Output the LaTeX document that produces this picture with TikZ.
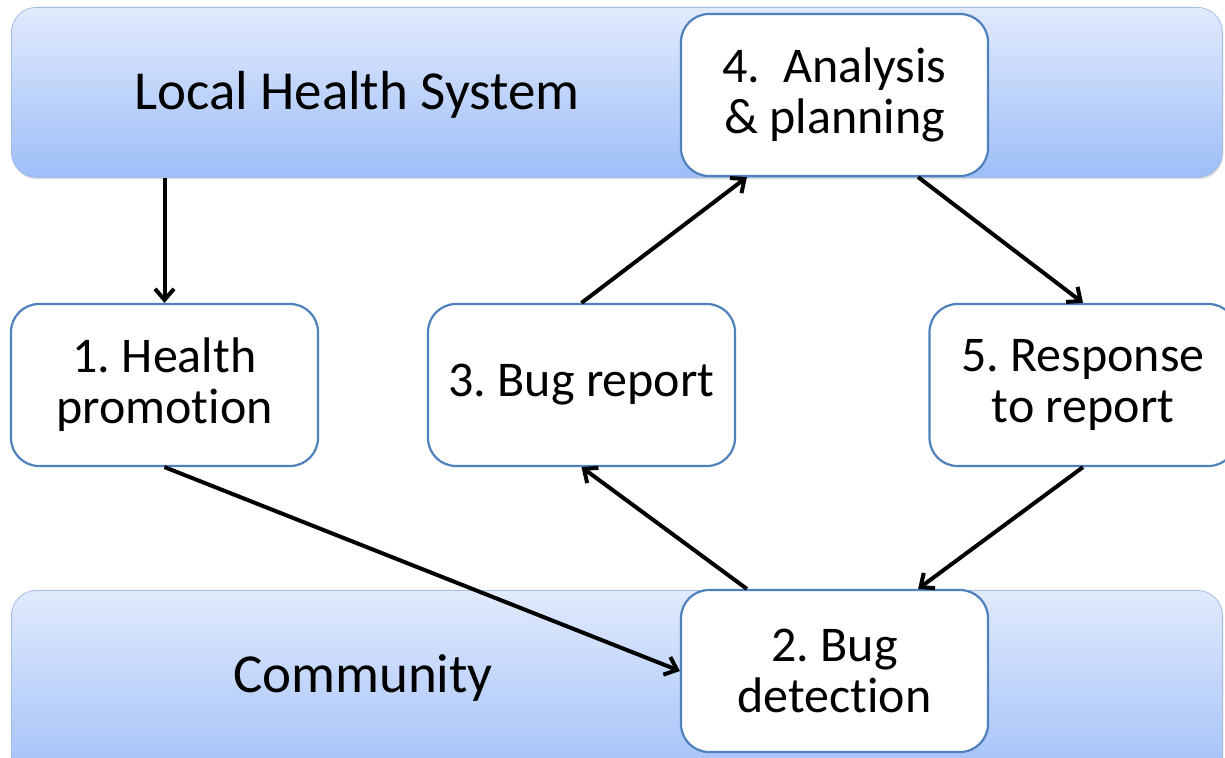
\documentclass[tikz,border=0pt]{standalone}
\usepackage{fontspec}
\setmainfont{Carlito}[Ligatures={NoCommon,NoContextual}]
\frenchspacing
\usetikzlibrary{arrows.meta,calc,shadows}
\definecolor{bandtop}{RGB}{225,234,252}
\definecolor{bandbot}{RGB}{158,190,248}
\definecolor{bandline}{RGB}{165,188,228}
\definecolor{boxline}{RGB}{79,129,189}
\begin{document}
\begin{tikzpicture}[x=1pt,y=-1pt,
  band/.style={rounded corners=25pt, top color=bandtop, bottom color=bandbot, draw=bandline, line width=0.8pt,
    drop shadow={shadow xshift=1pt, shadow yshift=-2pt, opacity=0.25}},
  stepbox/.style={draw=boxline, fill=white, line width=2.2pt, rounded corners=28pt, minimum width=307pt, minimum height=162pt, align=center, inner sep=0pt, font=\fontsize{50}{51}\selectfont},
  bandtext/.style={font=\fontsize{55}{60}\selectfont, inner sep=0pt},
  flow/.style={-{Straight Barb[length=11pt,width=19pt,line width=4pt]}, line width=4pt}
]
\useasboundingbox (0,0) rectangle (1225,757);
\node[band, minimum width=1211pt, minimum height=170pt, anchor=north west] (top) at (11,7) {};
\node[band, minimum width=1211pt, minimum height=200pt, anchor=north west] (bot) at (11,590) {};
\node[bandtext] (lhs) at (357,95) {Local Health System};
\node[bandtext] (com) at (363,678) {Community};
\node[stepbox] (b4) at (834.5,95) {4.~ Analysis\\\& planning};
\node[stepbox] (b1) at (164.5,385) {1. Health\\promotion};
\node[stepbox] (b3) at (581.5,385) {3. Bug report};
\node[stepbox] (b5) at (1083,385) {5. Response\\to report};
\node[stepbox] (b2) at (834.5,671) {2. Bug\\detection};
\draw[flow] (b1.north |- top.south) -- (b1.north);
\draw[flow] (b1.south) -- (b2.west);
\draw[flow] ($(b2.north west)+(67,0)$) -- (b3.south);
\draw[flow] (b3.north) -- ($(b4.south west)+(67,0)$);
\draw[flow] ($(b4.south east)+(-71,0)$) -- (b5.north);
\draw[flow] (b5.south) -- ($(b2.north east)+(-71,0)$);
\end{tikzpicture}
\end{document}
